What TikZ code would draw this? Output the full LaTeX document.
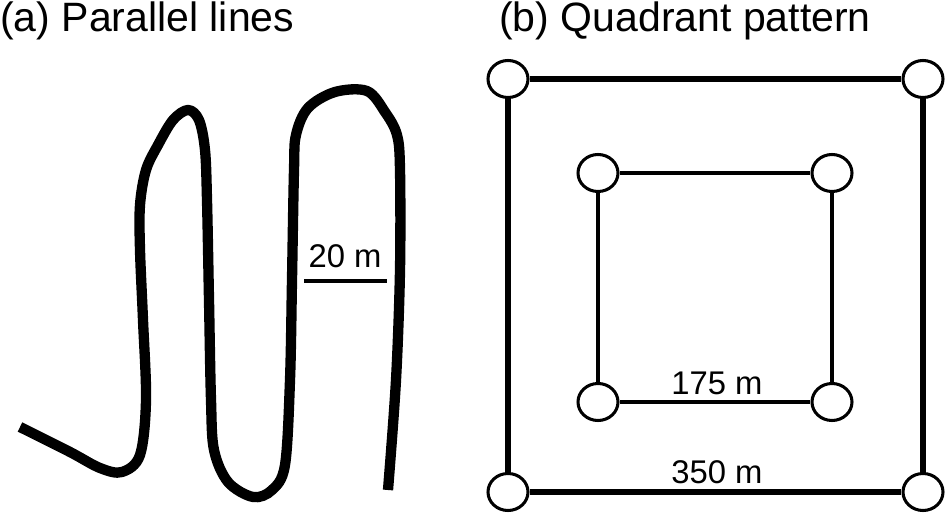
\documentclass[tikz,border=0pt]{standalone}
\usepackage{fontspec}
\setmainfont{Liberation Sans}
\usetikzlibrary{shapes.geometric}
\begin{document}
\begin{tikzpicture}[x=0.03cm,y=-0.03cm,
  title/.style={anchor=base west,inner sep=0pt,font=\fontsize{35}{40}\selectfont},
  lab/.style={anchor=base,inner sep=0pt,font=\fontsize{28}{32}\selectfont},
  station/.style={ellipse,draw,line width=2.6pt,fill=white,minimum width=40*0.03cm,minimum height=37*0.03cm,inner sep=0pt},
  outerline/.style={line width=5pt},
  innerline/.style={line width=2.6pt}]
\useasboundingbox (0,0) rectangle (945,513);
\node[title] (ta) at (0,32) {(a) Parallel lines};
\node[title] (tb) at (499,32) {(b) Quadrant pattern};
% meandering track
\draw[line width=8.8pt,line join=round] plot[smooth,tension=0.55] coordinates {
 (20,427) (70,452) (100,468) (122,472) (140,455) (146,400) (143,320) (140,250) (140,205)
 (146,170) (158,145) (173,120) (188,110) (199,120) (205,150) (207,200) (209,300)
 (211,400) (214,450) (228,482) (253,497) (272,490) (285,465) (290,380) (292,280)
 (294,170) (296,135) (308,108) (335,92) (367,91) (385,112) (397,135) (400,170)
 (400,270) (396,380) (388,490)};
% scale bar
\coordinate (sb1) at (304,281);
\coordinate (sb2) at (387,281);
\draw[line width=4pt] (sb1) -- (sb2);
\node[lab] (l20) at (345,268) {20 m};
% quadrant pattern
\node[station] (o1) at (508,79) {};
\node[station] (o2) at (923,79) {};
\node[station] (o3) at (923,492) {};
\node[station] (o4) at (508,492) {};
\node[station] (i1) at (598,173) {};
\node[station] (i2) at (832,173) {};
\node[station] (i3) at (832,402) {};
\node[station] (i4) at (598,402) {};
\draw[outerline] (o1) -- (o2); \draw[outerline] (o2) -- (o3);
\draw[outerline] (o3) -- (o4); \draw[outerline] (o4) -- (o1);
\draw[innerline] (i1) -- (i2); \draw[innerline] (i2) -- (i3);
\draw[innerline] (i3) -- (i4); \draw[innerline] (i4) -- (i1);
\node[lab] (l175) at (717,395) {175 m};
\node[lab] (l350) at (717,483) {350 m};
\end{tikzpicture}
\end{document}
